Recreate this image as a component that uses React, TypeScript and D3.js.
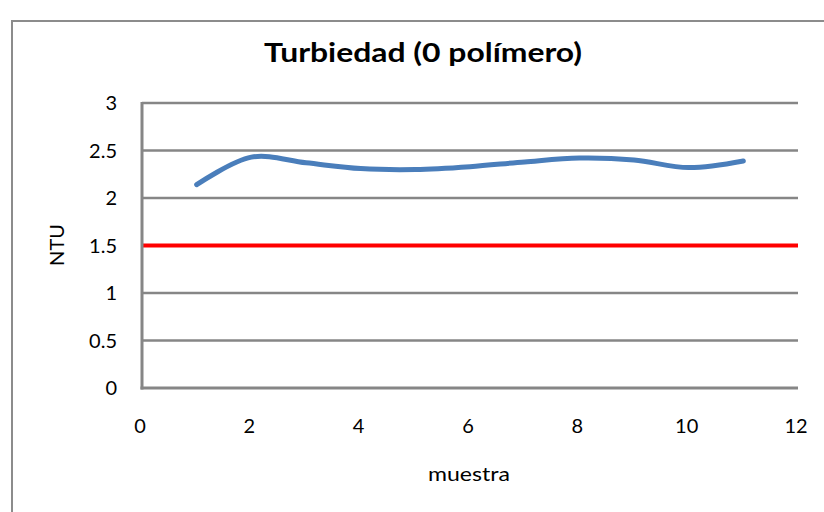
import React from "react";
import * as d3 from "d3";

const muestras = [1, 2, 3, 4, 5, 6, 7, 8, 9, 10, 11];
const turbiedad = [2.14, 2.43, 2.37, 2.31, 2.3, 2.33, 2.38, 2.42, 2.4, 2.32, 2.39];
const limiteX = [0, 12];
const limiteY = [1.5, 1.5];
const xTicks = [0, 2, 4, 6, 8, 10, 12];
const yTicks = [0, 0.5, 1, 1.5, 2, 2.5, 3];

export default function App() {
  const W = 824, H = 512;
  const left = 142, right = 798, top = 103, bottom = 388;
  const x = d3.scaleLinear().domain([0, 12]).range([left, right]);
  const y = d3.scaleLinear().domain([0, 3]).range([bottom, top]);
  const line = d3
    .line<[number, number]>()
    .x((d) => x(d[0]))
    .y((d) => y(d[1]))
    .curve(d3.curveCatmullRom.alpha(0.5));
  const blue = line(muestras.map((m, i) => [m, turbiedad[i]]));
  const red = d3
    .line<[number, number]>()
    .x((d) => x(d[0]))
    .y((d) => y(d[1]))(limiteX.map((v, i) => [v, limiteY[i]]));
  const font = "Lato, 'Open Sans', sans-serif";
  return (
    <svg
      width={W}
      height={H}
      style={{ position: "absolute", left: 0, top: 0, background: "#fff" }}
    >
      <rect x={12} y={21} width={W} height={H} fill="#fff" stroke="#8c8c8c" strokeWidth={2} />
      <text
        x={423}
        y={62}
        textAnchor="middle"
        fontFamily={font}
        fontWeight="bold"
        fontSize={26}
        fill="#000"
        textLength={318}
        lengthAdjust="spacingAndGlyphs"
      >
        Turbiedad (0 polímero)
      </text>
      {yTicks.map((t) =>
        t === 0 ? null : (
          <line key={"g" + t} x1={left} x2={right} y1={y(t)} y2={y(t)} stroke="#868686" strokeWidth={2.5} />
        )
      )}
      {yTicks.map((t) => (
        <text key={"yl" + t} x={117} y={y(t) + 7} textAnchor="end" fontFamily={font} fontSize={20} fill="#000">
          {t}
        </text>
      ))}
      {xTicks.map((t) => (
        <text key={"xl" + t} x={x(t) - 2} y={433} textAnchor="middle" fontFamily={font} fontSize={20} fill="#000">
          {t}
        </text>
      ))}
      <path d={red ?? ""} fill="none" stroke="#ff0000" strokeWidth={4} />
      <path d={blue ?? ""} fill="none" stroke="#4a7ebb" strokeWidth={5} strokeLinecap="round" />
      <line x1={left} x2={left} y1={top - 1} y2={bottom + 1.5} stroke="#868686" strokeWidth={3} />
      <line x1={left - 1.5} x2={right} y1={bottom} y2={bottom} stroke="#868686" strokeWidth={3} />
      <text
        x={469}
        y={481}
        textAnchor="middle"
        fontFamily={font}
        fontSize={19}
        fill="#000"
        textLength={82}
        lengthAdjust="spacingAndGlyphs"
      >
        muestra
      </text>
      <text
        transform={`translate(64,245) rotate(-90)`}
        textAnchor="middle"
        fontFamily={font}
        fontSize={20}
        fill="#000"
      >
        NTU
      </text>
    </svg>
  );
}
